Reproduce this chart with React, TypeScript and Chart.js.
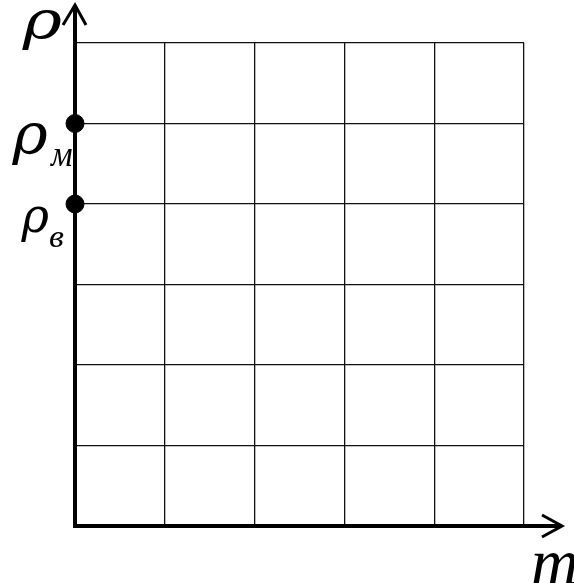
import React, { useEffect, useRef } from "react";
import { Chart, registerables } from "chart.js";

Chart.register(...registerables);

// Data
const xCategories = [0, 1, 2, 3, 4, 5];
const yCategories = [0, 1, 2, 3, 4, 5, 6];
const pointX = [0, 0];
const pointY = [5, 4];
const pointLabels = ["ρ", "ρ"];
const pointSubs = ["м", "в"];
const yAxisLabel = "ρ";
const xAxisLabel = "m";

const SERIF = "'Liberation Serif', 'Times New Roman', serif";
const GREEK = "'DejaVu Serif', serif";

function fitText(
  ctx: CanvasRenderingContext2D,
  t: string,
  font: string,
  left: number,
  top: number,
  W: number,
  H: number,
  maxStretch: number
) {
  ctx.save();
  ctx.font = `italic 100px ${font}`;
  ctx.textAlign = "left";
  ctx.textBaseline = "alphabetic";
  const m = ctx.measureText(t);
  const w = m.actualBoundingBoxLeft + m.actualBoundingBoxRight;
  const h = m.actualBoundingBoxAscent + m.actualBoundingBoxDescent;
  const sy = H / h;
  const sx = Math.min(W / w, sy * maxStretch);
  ctx.translate(left + m.actualBoundingBoxLeft * sx, top + m.actualBoundingBoxAscent * sy);
  ctx.scale(sx, sy);
  ctx.fillText(t, 0, 0);
  ctx.restore();
}

const axesPlugin = {
  id: "axesArrows",
  afterDraw(chart: any) {
    const { ctx, chartArea } = chart;
    const xs = chart.scales.x;
    const ys = chart.scales.y;
    const x0 = xs.getPixelForValue(0);
    const y0 = ys.getPixelForValue(0);
    ctx.save();
    ctx.strokeStyle = "#000";
    ctx.lineCap = "butt";
    ctx.lineWidth = 4;
    ctx.beginPath();
    ctx.moveTo(x0, y0 + 2);
    ctx.lineTo(x0, 6);
    ctx.moveTo(x0 - 2, y0);
    ctx.lineTo(chartArea.right + 37, y0);
    ctx.stroke();
    ctx.lineWidth = 3;
    ctx.lineJoin = "miter";
    ctx.beginPath();
    ctx.moveTo(x0 - 12, 25);
    ctx.lineTo(x0, 5);
    ctx.lineTo(x0 + 11, 25);
    ctx.stroke();
    const tipX = chartArea.right + 38;
    ctx.beginPath();
    ctx.moveTo(tipX - 20, y0 - 11);
    ctx.lineTo(tipX, y0);
    ctx.lineTo(tipX - 20, y0 + 11);
    ctx.stroke();

    ctx.fillStyle = "#000";
    fitText(ctx, yAxisLabel, GREEK, 22, 10, 40, 40, 1.35);
    const py0 = ys.getPixelForValue(pointY[0]);
    const py1 = ys.getPixelForValue(pointY[1]);
    fitText(ctx, pointLabels[0], GREEK, 12, py0 - 1, 36, 42, 1.35);
    fitText(ctx, pointSubs[0], SERIF, 50, py0 + 26, 22, 17, 1.1);
    fitText(ctx, pointLabels[1], GREEK, 21, py1 + 2, 28, 36, 1.35);
    fitText(ctx, pointSubs[1], SERIF, 50, py1 + 28, 20, 15, 1.1);
    ctx.font = `italic 66px ${SERIF}`;
    ctx.textAlign = "left";
    ctx.textBaseline = "alphabetic";
    ctx.fillText(xAxisLabel, 531, 584);
    ctx.restore();
  },
};

export default function App() {
  const ref = useRef<HTMLCanvasElement>(null);
  useEffect(() => {
    if (!ref.current) return;
    const chart = new Chart(ref.current, {
      type: "scatter",
      data: {
        datasets: [
          {
            data: pointX.map((x, i) => ({ x, y: pointY[i] })),
            backgroundColor: "#000",
            borderColor: "#000",
            pointRadius: 9,
            pointHoverRadius: 9,
            clip: false as any,
          },
        ],
      },
      options: {
        animation: false,
        responsive: false,
        maintainAspectRatio: false,
        layout: { padding: { left: 75, right: 50, top: 43, bottom: 57 } },
        plugins: { legend: { display: false }, tooltip: { enabled: false } },
        scales: {
          x: {
            type: "linear",
            min: xCategories[0],
            max: xCategories[xCategories.length - 1],
            ticks: { display: false, stepSize: 1 },
            grid: { color: "#111", lineWidth: 1.3, drawTicks: false },
            border: { display: false },
          },
          y: {
            type: "linear",
            min: yCategories[0],
            max: yCategories[yCategories.length - 1],
            ticks: { display: false, stepSize: 1 },
            grid: { color: "#111", lineWidth: 1.3, drawTicks: false },
            border: { display: false },
          },
        },
      },
      plugins: [axesPlugin],
    });
    return () => chart.destroy();
  }, []);
  return (
    <canvas
      ref={ref}
      width={574}
      height={583}
      style={{ position: "fixed", left: 0, top: 0, width: 574, height: 583, background: "#fff" }}
    />
  );
}
